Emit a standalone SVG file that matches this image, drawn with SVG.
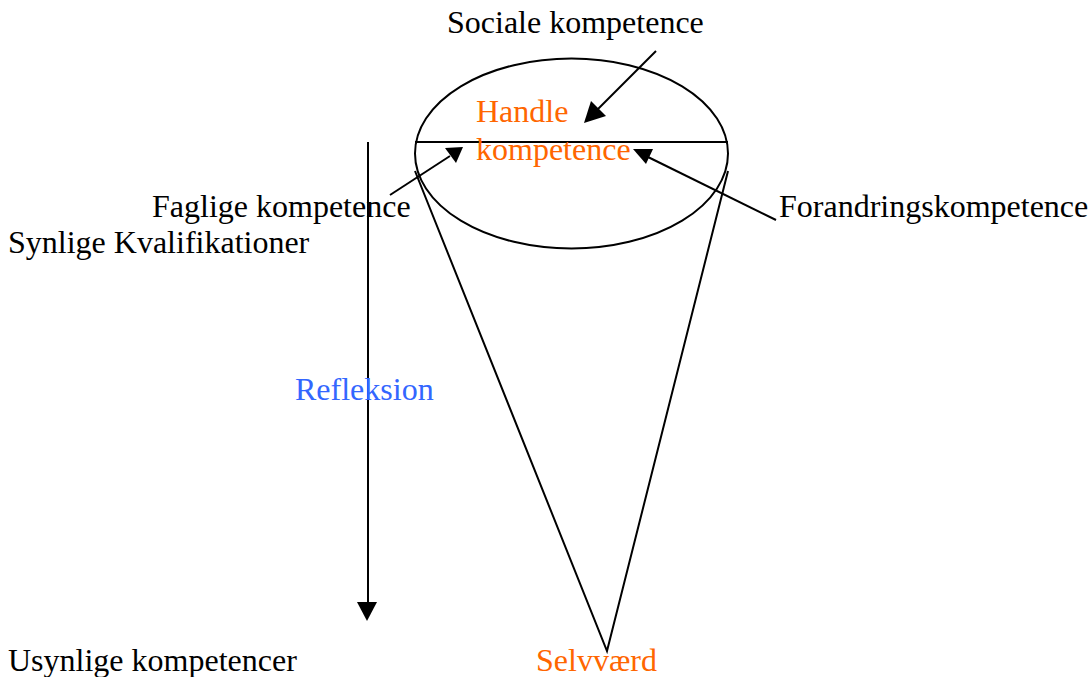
<svg xmlns="http://www.w3.org/2000/svg" width="1091" height="677" viewBox="0 0 1091 677">
<style>
text{font-family:"Liberation Serif","Times New Roman",serif;font-size:32px;fill:#000}
.o{fill:#FF6600}
.b{fill:#3366FF}
.ln{stroke:#000;stroke-width:2;fill:none}
</style>
<rect width="1091" height="677" fill="#fff"/>
<g id="cone">
<ellipse class="ln" cx="571.5" cy="153.5" rx="156.5" ry="95"/>
<line class="ln" x1="415" y1="142" x2="728" y2="142"/>
<polyline class="ln" points="415,171 607,651 728,171"/>
</g>
<g id="connectors">
<line class="ln" x1="368" y1="142" x2="368" y2="603"/>
<path d="M357,602 L377,602 L367,621 Z" fill="#000"/>
<line class="ln" x1="656" y1="51" x2="596" y2="111"/>
<path d="M584,123 L591,101 L606,116 Z" fill="#000"/>
<line class="ln" x1="390" y1="195" x2="450" y2="156"/>
<path d="M463,147 L445,148 L456,163 Z" fill="#000"/>
<line class="ln" x1="776" y1="220" x2="648" y2="157"/>
<path d="M633,149 L653,149 L646,164 Z" fill="#000"/>
</g>
<g id="labels">
<text x="447" y="33">Sociale kompetence</text>
<text class="o" x="476" y="122">Handle</text>
<text class="o" x="476" y="160">kompetence</text>
<text x="152" y="217">Faglige kompetence</text>
<text x="779" y="217">Forandringskompetence</text>
<text x="8" y="253">Synlige Kvalifikationer</text>
<text class="b" x="295" y="400">Refleksion</text>
<text x="8" y="671">Usynlige kompetencer</text>
<text class="o" x="536" y="671">Selvværd</text>
</g>
</svg>
